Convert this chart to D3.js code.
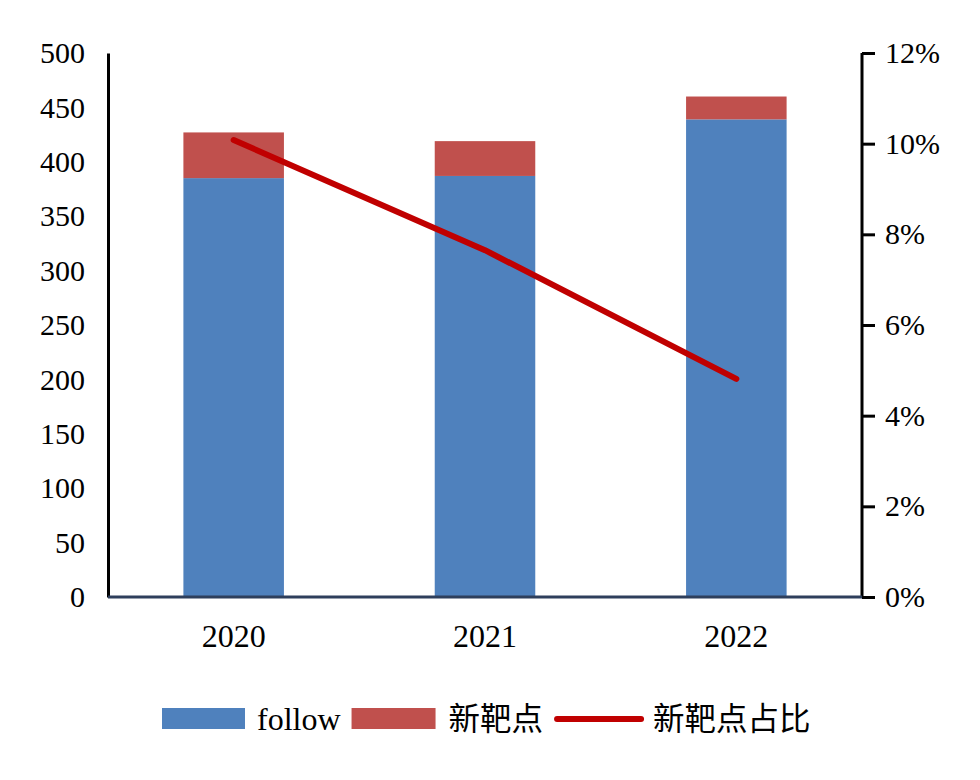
<!DOCTYPE html>
<html><head><meta charset="utf-8">
<script src="https://cdn.jsdelivr.net/npm/d3@7"></script>
<style>
body{margin:0;background:#fff;}
svg{display:block;}
</style></head>
<body>
<svg id="chart" width="980" height="780"></svg>
<script>
const years = ["2020", "2021", "2022"];
const followVals = [385, 387, 439];
const newTargetVals = [42, 32, 21];
const shareVals = [0.1008, 0.0765, 0.0481];
const leftTicks = [0, 50, 100, 150, 200, 250, 300, 350, 400, 450, 500];
const rightTicks = [0, 0.02, 0.04, 0.06, 0.08, 0.10, 0.12];
const legendLabels = ["follow", "新靶点", "新靶点占比"];

const svg = d3.select("#chart");
const m = {left: 108, right: 862, top: 53, bottom: 597};
const serif = "'Liberation Serif','Times New Roman',serif";
const cjk = "'Noto Sans CJK SC','Noto Sans CJK JP',sans-serif";
const blue = "#4f81bd", red = "#c0504d", lineCol = "#c00000";

const x = d3.scaleBand().domain(years).range([m.left, m.right]).paddingInner(0.6).paddingOuter(0.3);
const yL = d3.scaleLinear().domain([0, 500]).range([m.bottom, m.top]);
const yR = d3.scaleLinear().domain([0, 0.12]).range([m.bottom, m.top]);

// bars
svg.append("g").selectAll("rect").data(years).join("rect")
  .attr("x", d => x(d)).attr("width", x.bandwidth())
  .attr("y", (d,i) => yL(followVals[i]))
  .attr("height", (d,i) => yL(0) - yL(followVals[i]))
  .attr("fill", blue);
svg.append("g").selectAll("rect").data(years).join("rect")
  .attr("x", d => x(d)).attr("width", x.bandwidth())
  .attr("y", (d,i) => yL(followVals[i] + newTargetVals[i]))
  .attr("height", (d,i) => yL(followVals[i]) - yL(followVals[i] + newTargetVals[i]))
  .attr("fill", red);

// left axis
const gL = svg.append("g").attr("transform", `translate(${m.left},0)`)
  .call(d3.axisLeft(yL).tickValues(leftTicks).tickSize(0).tickPadding(23));
gL.select(".domain").attr("stroke", "#000").attr("stroke-width", 3);
gL.selectAll("text").attr("font-family", serif).attr("font-size", 30).attr("fill", "#000");

// right axis
const gR = svg.append("g").attr("transform", `translate(${m.right},0)`)
  .call(d3.axisRight(yR).tickValues(rightTicks).tickSize(13).tickPadding(10).tickFormat(d => Math.round(d*100) + "%"));
gR.select(".domain").attr("stroke", "#000").attr("stroke-width", 3).attr("d", `M0,${m.top}V${m.bottom}`);
gR.selectAll(".tick line").attr("stroke", "#000").attr("stroke-width", 3);
gR.selectAll("text").attr("font-family", serif).attr("font-size", 30).attr("fill", "#000");

// bottom axis
const gB = svg.append("g").attr("transform", `translate(0,${m.bottom})`)
  .call(d3.axisBottom(x).tickSize(0).tickPadding(27));
gB.select(".domain").attr("stroke", "#2e3f5c").attr("stroke-width", 3).attr("d", `M${m.left},0H${m.right}`);
gB.selectAll("text").attr("font-family", serif).attr("font-size", 32).attr("fill", "#000");

// line
const line = d3.line().x((d,i) => x(years[i]) + x.bandwidth()/2).y(d => yR(d));
svg.append("path").datum(shareVals).attr("d", line)
  .attr("fill", "none").attr("stroke", lineCol).attr("stroke-width", 6)
  .attr("stroke-linecap", "round").attr("stroke-linejoin", "round");

// legend
const lg = svg.append("g");
const ly = 719;
let cx = 162;
lg.append("rect").attr("x", cx).attr("y", ly - 11).attr("width", 83).attr("height", 21).attr("fill", blue);
cx += 95;
let t = lg.append("text").attr("x", cx).attr("y", ly).attr("dy", "0.35em")
  .attr("font-family", serif).attr("font-size", 32).text(legendLabels[0]);
cx += t.node().getComputedTextLength() + 11;
lg.append("rect").attr("x", cx).attr("y", ly - 11).attr("width", 84).attr("height", 21).attr("fill", red);
cx += 97;
t = lg.append("text").attr("x", cx).attr("y", ly).attr("dy", "0.36em")
  .attr("font-family", cjk).attr("font-size", 31.5).text(legendLabels[1]);
cx += t.node().getComputedTextLength() + 14;
lg.append("line").attr("x1", cx).attr("x2", cx + 84).attr("y1", ly).attr("y2", ly)
  .attr("stroke", lineCol).attr("stroke-width", 6).attr("stroke-linecap", "round");
cx += 96;
lg.append("text").attr("x", cx).attr("y", ly).attr("dy", "0.36em")
  .attr("font-family", cjk).attr("font-size", 31.5).text(legendLabels[2]);
</script>
</body></html>
